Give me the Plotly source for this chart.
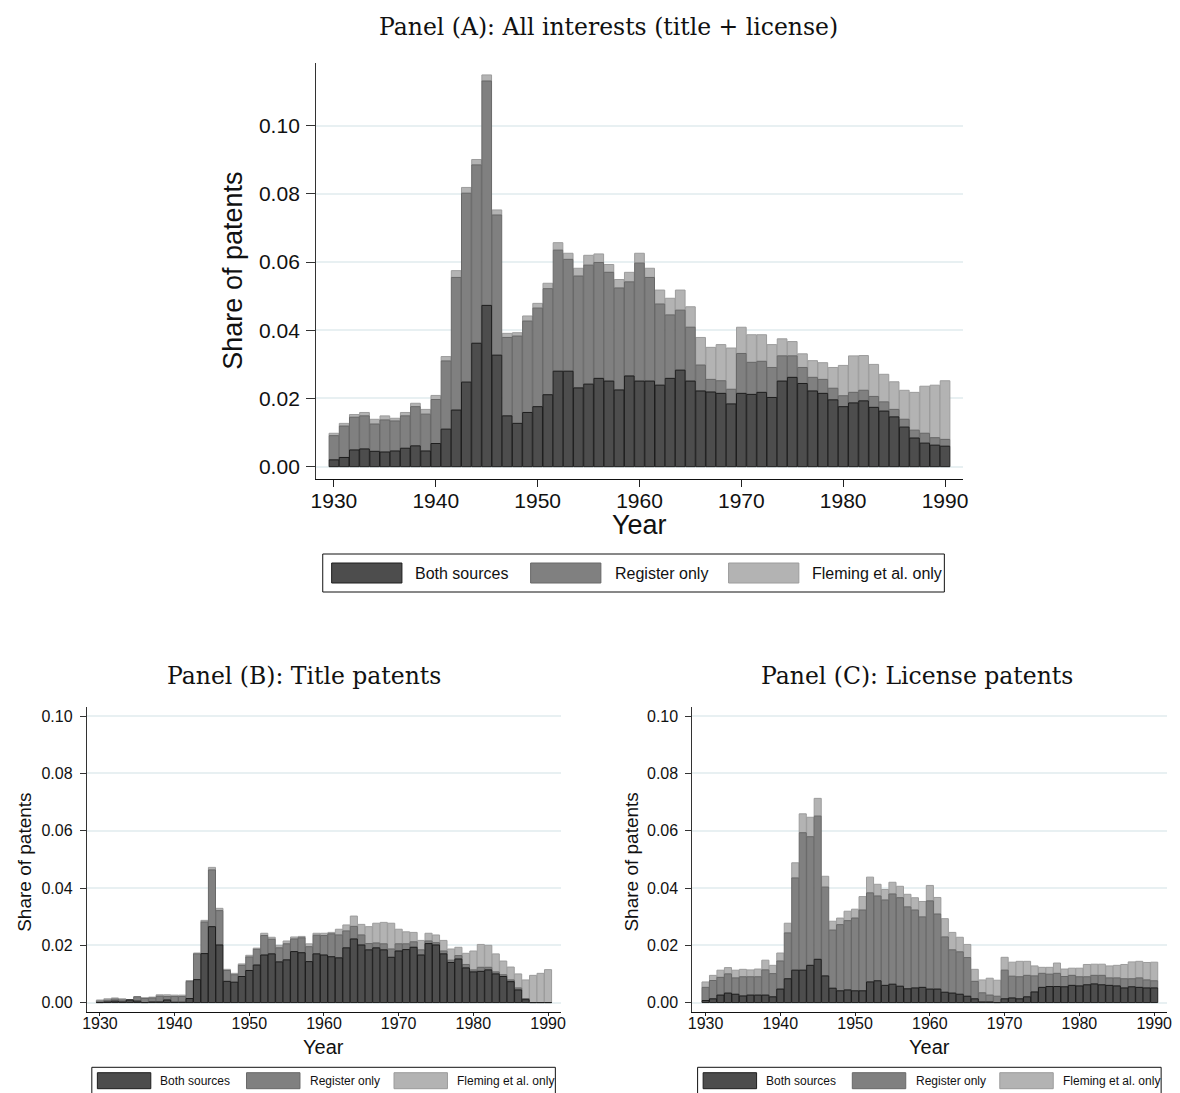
import numpy as np
import plotly.graph_objects as go

years = list(range(1930, 1991))

# ---------------- Panel A: All interests (title + license) ----------------
# cumulative tops: Both sources, Both + Register only, Total
a_both = [0.0020, 0.0027, 0.0049, 0.0052, 0.0045, 0.0043, 0.0046, 0.0054, 0.0061, 0.0046,
          0.0068, 0.0110, 0.0166, 0.0248, 0.0362, 0.0473, 0.0327, 0.0149, 0.0127, 0.0159,
          0.0176, 0.0211, 0.0280, 0.0280, 0.0231, 0.0242, 0.0259, 0.0251, 0.0225, 0.0266,
          0.0251, 0.0251, 0.0239, 0.0259, 0.0283, 0.0251, 0.0222, 0.0219, 0.0215, 0.0184,
          0.0215, 0.0212, 0.0218, 0.0203, 0.0251, 0.0262, 0.0244, 0.0222, 0.0215, 0.0196,
          0.0176, 0.0187, 0.0193, 0.0174, 0.0163, 0.0146, 0.0116, 0.0084, 0.0069, 0.0063,
          0.0060]
a_both_reg = [0.0091, 0.0119, 0.0145, 0.0149, 0.0125, 0.0137, 0.0134, 0.0149, 0.0176, 0.0154,
              0.0197, 0.0310, 0.0555, 0.0802, 0.0885, 0.1131, 0.0738, 0.0379, 0.0383, 0.0427,
              0.0465, 0.0522, 0.0635, 0.0608, 0.0559, 0.0591, 0.0599, 0.0570, 0.0524, 0.0542,
              0.0597, 0.0555, 0.0477, 0.0445, 0.0459, 0.0409, 0.0298, 0.0256, 0.0252, 0.0227,
              0.0332, 0.0306, 0.0309, 0.0291, 0.0325, 0.0325, 0.0291, 0.0262, 0.0256, 0.0230,
              0.0208, 0.0218, 0.0224, 0.0206, 0.0190, 0.0168, 0.0139, 0.0107, 0.0098, 0.0085,
              0.0080]
a_total = [0.0098, 0.0127, 0.0153, 0.0159, 0.0139, 0.0149, 0.0142, 0.0159, 0.0186, 0.0168,
           0.0209, 0.0323, 0.0575, 0.0819, 0.0901, 0.1149, 0.0753, 0.0391, 0.0393, 0.0442,
           0.0479, 0.0538, 0.0657, 0.0626, 0.0582, 0.0620, 0.0624, 0.0593, 0.0549, 0.0570,
           0.0626, 0.0582, 0.0518, 0.0494, 0.0518, 0.0469, 0.0379, 0.0350, 0.0358, 0.0348,
           0.0409, 0.0387, 0.0387, 0.0358, 0.0375, 0.0367, 0.0331, 0.0311, 0.0305, 0.0291,
           0.0297, 0.0325, 0.0326, 0.0300, 0.0271, 0.0249, 0.0224, 0.0218, 0.0236, 0.0239,
           0.0252]

# ---------------- Panel B: Title patents ----------------
b_both = [0.0000, 0.0002, 0.0005, 0.0002, 0.0009, 0.0005, 0.0000, 0.0002, 0.0002, 0.0009,
          0.0001, 0.0001, 0.0014, 0.0080, 0.0171, 0.0265, 0.0201, 0.0074, 0.0071, 0.0091,
          0.0112, 0.0131, 0.0166, 0.0170, 0.0142, 0.0149, 0.0178, 0.0174, 0.0143, 0.0170,
          0.0166, 0.0160, 0.0156, 0.0191, 0.0222, 0.0201, 0.0184, 0.0191, 0.0184, 0.0158,
          0.0180, 0.0185, 0.0193, 0.0166, 0.0206, 0.0201, 0.0170, 0.0140, 0.0152, 0.0121,
          0.0107, 0.0109, 0.0114, 0.0100, 0.0091, 0.0073, 0.0044, 0.0010, 0.0000, 0.0000,
          0.0000]
b_both_reg = [0.0005, 0.0008, 0.0012, 0.0009, 0.0010, 0.0020, 0.0014, 0.0016, 0.0022, 0.0021,
              0.0021, 0.0021, 0.0073, 0.0170, 0.0281, 0.0463, 0.0321, 0.0112, 0.0097, 0.0130,
              0.0159, 0.0186, 0.0234, 0.0221, 0.0191, 0.0205, 0.0222, 0.0226, 0.0195, 0.0235,
              0.0234, 0.0240, 0.0236, 0.0250, 0.0266, 0.0236, 0.0206, 0.0208, 0.0205, 0.0187,
              0.0205, 0.0205, 0.0212, 0.0184, 0.0215, 0.0209, 0.0180, 0.0148, 0.0164, 0.0133,
              0.0114, 0.0123, 0.0123, 0.0107, 0.0097, 0.0079, 0.0051, 0.0014, 0.0000, 0.0000,
              0.0000]
b_total = [0.0009, 0.0013, 0.0016, 0.0013, 0.0010, 0.0020, 0.0017, 0.0019, 0.0027, 0.0027,
           0.0026, 0.0026, 0.0077, 0.0173, 0.0287, 0.0472, 0.0329, 0.0116, 0.0102, 0.0135,
           0.0165, 0.0190, 0.0242, 0.0228, 0.0200, 0.0215, 0.0229, 0.0231, 0.0205, 0.0242,
           0.0242, 0.0245, 0.0256, 0.0271, 0.0302, 0.0273, 0.0265, 0.0277, 0.0280, 0.0277,
           0.0256, 0.0247, 0.0245, 0.0217, 0.0242, 0.0236, 0.0217, 0.0187, 0.0193, 0.0172,
           0.0180, 0.0203, 0.0200, 0.0170, 0.0145, 0.0124, 0.0100, 0.0079, 0.0095, 0.0102,
           0.0115]

# ---------------- Panel C: License patents ----------------
c_both = [0.0007, 0.0013, 0.0026, 0.0033, 0.0029, 0.0023, 0.0026, 0.0026, 0.0026, 0.0020,
          0.0047, 0.0083, 0.0113, 0.0113, 0.0130, 0.0151, 0.0093, 0.0050, 0.0041, 0.0044,
          0.0041, 0.0041, 0.0072, 0.0076, 0.0060, 0.0064, 0.0057, 0.0048, 0.0051, 0.0053,
          0.0047, 0.0047, 0.0036, 0.0033, 0.0029, 0.0022, 0.0013, 0.0002, 0.0002, 0.0000,
          0.0013, 0.0016, 0.0013, 0.0020, 0.0037, 0.0053, 0.0056, 0.0056, 0.0055, 0.0060,
          0.0058, 0.0062, 0.0065, 0.0062, 0.0060, 0.0058, 0.0051, 0.0055, 0.0053, 0.0051,
          0.0051]
c_both_reg = [0.0053, 0.0077, 0.0088, 0.0100, 0.0086, 0.0090, 0.0090, 0.0090, 0.0114, 0.0101,
              0.0145, 0.0243, 0.0435, 0.0593, 0.0579, 0.0651, 0.0403, 0.0253, 0.0272, 0.0286,
              0.0295, 0.0323, 0.0383, 0.0372, 0.0358, 0.0379, 0.0366, 0.0334, 0.0323, 0.0299,
              0.0355, 0.0309, 0.0229, 0.0184, 0.0177, 0.0157, 0.0074, 0.0034, 0.0026, 0.0022,
              0.0113, 0.0092, 0.0090, 0.0095, 0.0093, 0.0102, 0.0099, 0.0102, 0.0091, 0.0095,
              0.0090, 0.0090, 0.0095, 0.0095, 0.0086, 0.0086, 0.0083, 0.0083, 0.0086, 0.0079,
              0.0076]
c_total = [0.0072, 0.0095, 0.0113, 0.0122, 0.0113, 0.0116, 0.0114, 0.0117, 0.0148, 0.0130,
           0.0173, 0.0277, 0.0488, 0.0659, 0.0647, 0.0713, 0.0441, 0.0284, 0.0295, 0.0319,
           0.0326, 0.0370, 0.0438, 0.0413, 0.0395, 0.0420, 0.0406, 0.0378, 0.0366, 0.0353,
           0.0409, 0.0367, 0.0293, 0.0245, 0.0228, 0.0203, 0.0116, 0.0079, 0.0085, 0.0078,
           0.0158, 0.0141, 0.0144, 0.0144, 0.0128, 0.0123, 0.0123, 0.0138, 0.0117, 0.0120,
           0.0120, 0.0133, 0.0134, 0.0134, 0.0128, 0.0130, 0.0133, 0.0142, 0.0144, 0.0140,
           0.0141]

series_names = ["Both sources", "Register only", "Fleming et al. only"]
panel_titles = ["Panel (A): All interests (title + license)",
                "Panel (B): Title patents",
                "Panel (C): License patents"]
x_tick_years = [1930, 1940, 1950, 1960, 1970, 1980, 1990]
y_tick_vals = [0.00, 0.02, 0.04, 0.06, 0.08, 0.10]
y_title = "Share of patents"
x_title = "Year"

# ---------------- styling ----------------
W, H = 1180, 1093
FILL = ["#4d4d4d", "#808080", "#b3b3b3"]
EDGE = ["#1e1e1e", "#686868", "#9c9c9c"]
GRID = "#e8f0f2"
SANS = "Liberation Sans, Arial, Helvetica, sans-serif"
SERIF = "DejaVu Serif, Liberation Serif, serif"


def px(x):
    return x / W


def py(y):
    return 1 - y / H


fig = go.Figure()

panels = [
    (a_both, a_both_reg, a_total, "x", "y"),
    (b_both, b_both_reg, b_total, "x2", "y2"),
    (c_both, c_both_reg, c_total, "x3", "y3"),
]

for both, both_reg, total, xa, ya in panels:
    both = np.array(both)
    both_reg = np.array(both_reg)
    total = np.array(total)
    segs = [
        (both, np.zeros_like(both)),
        (both_reg - both, both),
        (total - both_reg, both_reg),
    ]
    # draw lightest first so darker outlines sit on top
    for k in [2, 1, 0]:
        h, b = segs[k]
        fig.add_trace(go.Bar(
            x=years, y=h, base=b, width=0.95, name=series_names[k],
            marker=dict(color=FILL[k], line=dict(color=EDGE[k], width=1)),
            xaxis=xa, yaxis=ya, showlegend=False,
        ))

X_RANGE = [1928.25, 1991.75]


def xaxis(domain, anchor, fs, tl, so):
    return dict(domain=domain, anchor=anchor, range=X_RANGE,
                tickmode="array", tickvals=x_tick_years,
                ticktext=[str(v) for v in x_tick_years],
                ticks="outside", ticklen=tl, tickwidth=1, tickcolor="#222",
                ticklabelstandoff=so,
                showline=True, linecolor="#111", linewidth=1.2,
                showgrid=False, zeroline=False,
                tickfont=dict(family=SANS, size=fs, color="#111"))


def yaxis(domain, anchor, rng, fs, tl, so):
    return dict(domain=domain, anchor=anchor, range=rng,
                tickmode="array", tickvals=y_tick_vals,
                ticktext=["%.2f" % v for v in y_tick_vals],
                ticks="outside", ticklen=tl, tickwidth=1, tickcolor="#333",
                ticklabelstandoff=so,
                showline=True, linecolor="#333", linewidth=1.2,
                showgrid=True, gridcolor=GRID, gridwidth=1.5,
                zeroline=False,
                tickfont=dict(family=SANS, size=fs, color="#111"))


fig.update_layout(
    width=W, height=H, margin=dict(l=0, r=0, t=0, b=0),
    paper_bgcolor="white", plot_bgcolor="white",
    barmode="overlay", showlegend=False,
    xaxis=xaxis([px(313.3), px(966.7)], "y", 21, 7, -5),
    yaxis=yaxis([py(479.3), py(63)], "x", [-0.0037, 0.1184], 21, 9, 2),
    xaxis2=xaxis([px(81.7), px(560.8)], "y2", 16, 3, -7),
    yaxis2=yaxis([py(1012.3), py(707.3)], "x2", [-0.0034, 0.1031], 16, 6, 4),
    xaxis3=xaxis([px(693.5), px(1173.2)], "y3", 16, 3, -7),
    yaxis3=yaxis([py(1012.3), py(707.3)], "x3", [-0.0034, 0.1031], 16, 6, 4),
)

ann = []


def text(x, y, s, size, family=SANS, angle=0, xanchor="center"):
    ann.append(dict(x=px(x), y=py(y), xref="paper", yref="paper", text=s,
                    showarrow=False, xanchor=xanchor, yanchor="middle",
                    textangle=angle, font=dict(family=family, size=size, color="#111")))


# titles
text(609, 27, panel_titles[0], 23.5, SERIF)
text(301, 676, panel_titles[1], 23.5, SERIF)
text(920, 676, panel_titles[2], 23.5, SERIF)

# axis titles
text(229, 271, y_title, 27, angle=-90)
text(640, 525, x_title, 27)
text(18, 862, y_title, 19, angle=-90)
text(321, 1047, x_title, 20)
text(631, 862, y_title, 19, angle=-90)
text(933, 1047, x_title, 20)

shapes = []


def rect(x0, y0, x1, y1, fill, edge, w=1):
    shapes.append(dict(type="rect", xref="paper", yref="paper",
                       x0=px(x0), x1=px(x1), y0=py(y1), y1=py(y0),
                       fillcolor=fill, line=dict(color=edge, width=w)))


# Legend panel A
rect(320, 554, 948, 592, "white", "#111", 1)
sw_a = [329, 530, 730]
tx_a = [411, 613, 812]
for k in range(3):
    rect(sw_a[k], 563, sw_a[k] + 71, 583, FILL[k], EDGE[k])
    text(tx_a[k], 573, series_names[k], 16, xanchor="left")

# Legends panels B and C
for off in [0, 612]:
    rect(86.7 + off, 1067.3, 555 + off, 1100, "white", "#111", 1)
    sw = [92.3, 243, 392]
    tx = [154, 305, 454]
    for k in range(3):
        rect(sw[k] + off, 1072.7, sw[k] + 54 + off, 1088.7, FILL[k], EDGE[k])
        text(tx[k] + off, 1081, series_names[k], 12, xanchor="left")

fig.update_layout(annotations=ann, shapes=shapes)

fig.write_html("out.html")
